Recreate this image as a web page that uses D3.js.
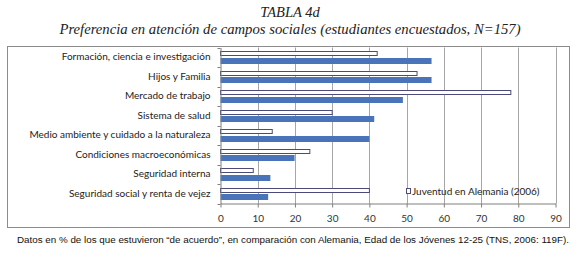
<!DOCTYPE html>
<html>
<head>
<meta charset="utf-8">
<script src="https://cdn.jsdelivr.net/npm/d3@7"></script>
<style>
  body { margin: 0; background: #fff; }
  svg { display: block; }
</style>
</head>
<body>
<div id="chart"></div>
<script>
// categories, top to bottom
const categories = [
    "Formación, ciencia e investigación",
    "Hijos y Familia",
    "Mercado de trabajo",
    "Sistema de salud",
    "Medio ambiente y cuidado a la naturaleza",
    "Condiciones macroeconómicas",
    "Seguridad interna",
    "Seguridad social y renta de vejez"
];
// estudiantes encuestados (filled bars)
const estudiantes = [56.7, 56.7, 49.0, 41.3, 40.0, 19.9, 13.4, 12.8];
// Juventud en Alemania (2006) (hollow bars)
const alemania = [42.1, 52.8, 78.0, 30.0, 13.9, 24.0, 8.8, 40.0];
const xTicks = [0, 10, 20, 30, 40, 50, 60, 70, 80, 90];

const W = 581, H = 261;
const svg = d3.select("#chart").append("svg")
    .attr("width", W)
    .attr("height", H);

// title
svg.append("text")
    .attr("x", 290).attr("y", 17)
    .attr("text-anchor", "middle")
    .style("font-family", "Liberation Serif")
    .style("font-style", "italic")
    .style("font-size", "14.5px")
    .style("fill", "#222")
    .text("TABLA 4d");
svg.append("text")
    .attr("x", 290).attr("y", 34)
    .attr("text-anchor", "middle")
    .style("font-family", "Liberation Serif")
    .style("font-style", "italic")
    .style("font-size", "14.7px")
    .style("fill", "#222")
    .text("Preferencia en atención de campos sociales (estudiantes encuestados, N=157)");

// outer chart box
svg.append("rect")
    .attr("x", 7.5).attr("y", 46.5)
    .attr("width", 562).attr("height", 181)
    .attr("fill", "none")
    .attr("stroke", "#8c8c8c");

const plot = { left: 220.5, right: 555.5, top: 47.5, bottom: 203.5 };

const x = d3.scaleLinear().domain([0, 90]).range([plot.left, plot.right]);
const y = d3.scaleBand().domain(categories).range([plot.top, plot.bottom]);
const bw = y.bandwidth();

// vertical gridlines
svg.append("g")
    .selectAll("line")
    .data(xTicks.slice(1))
    .join("line")
    .attr("x1", d => Math.round(x(d)) + 0.5)
    .attr("x2", d => Math.round(x(d)) + 0.5)
    .attr("y1", plot.top)
    .attr("y2", plot.bottom)
    .attr("stroke", "#a6a6a6");

// hollow bars (Alemania)
svg.append("g")
    .selectAll("rect")
    .data(alemania)
    .join("rect")
    .attr("x", x(0))
    .attr("y", (d, i) => Math.round(y(categories[i]) + bw * 0.2) + 0.5)
    .attr("width", d => x(d) - x(0))
    .attr("height", 4)
    .attr("fill", "#fff")
    .attr("stroke", "#4b4a78");

// filled bars (estudiantes)
svg.append("g")
    .selectAll("rect")
    .data(estudiantes)
    .join("rect")
    .attr("x", x(0))
    .attr("y", (d, i) => Math.round(y(categories[i]) + bw * 0.53))
    .attr("width", d => x(d) - x(0))
    .attr("height", 6)
    .attr("fill", "#4a74ba");

// x axis
const xAxis = svg.append("g")
    .attr("transform", `translate(0, ${plot.bottom})`)
    .call(d3.axisBottom(x).tickValues(xTicks).tickSize(4).tickSizeOuter(0).tickPadding(7));
xAxis.select(".domain").attr("stroke", "#7f7f7f");
xAxis.selectAll(".tick line").attr("stroke", "#7f7f7f");
xAxis.selectAll("text")
    .style("font-family", "Lato")
    .style("font-size", "10px")
    .style("fill", "#333");

// y axis
const yAxis = svg.append("g")
    .attr("transform", `translate(${plot.left}, 0)`)
    .call(d3.axisLeft(y).tickSize(0).tickPadding(10));
yAxis.select(".domain").attr("stroke", "#7f7f7f");
yAxis.selectAll("text")
    .style("font-family", "Lato")
    .style("font-size", "10px")
    .style("fill", "#222");
// band boundary ticks
yAxis.selectAll(".band-tick")
    .data(d3.range(categories.length + 1))
    .join("line")
    .attr("x1", -3).attr("x2", 0)
    .attr("y1", i => Math.round(plot.top + i * bw) + 0.5)
    .attr("y2", i => Math.round(plot.top + i * bw) + 0.5)
    .attr("stroke", "#7f7f7f");

// legend
svg.append("rect")
    .attr("x", 406.5).attr("y", 188.5)
    .attr("width", 4).attr("height", 5)
    .attr("fill", "#fff")
    .attr("stroke", "#4b4a78");
svg.append("text")
    .attr("x", 412).attr("y", 195)
    .style("font-family", "Lato")
    .style("font-size", "10px")
    .style("fill", "#222")
    .text("Juventud en Alemania (2006)");

// caption
svg.append("text")
    .attr("x", 17).attr("y", 243)
    .attr("textLength", 552)
    .attr("lengthAdjust", "spacingAndGlyphs")
    .style("font-family", "Liberation Sans")
    .style("font-size", "9.6px")
    .style("fill", "#111")
    .text("Datos en % de los que estuvieron “de acuerdo”, en comparación con Alemania, Edad de los Jóvenes 12-25 (TNS, 2006: 119F).");
</script>
</body>
</html>
